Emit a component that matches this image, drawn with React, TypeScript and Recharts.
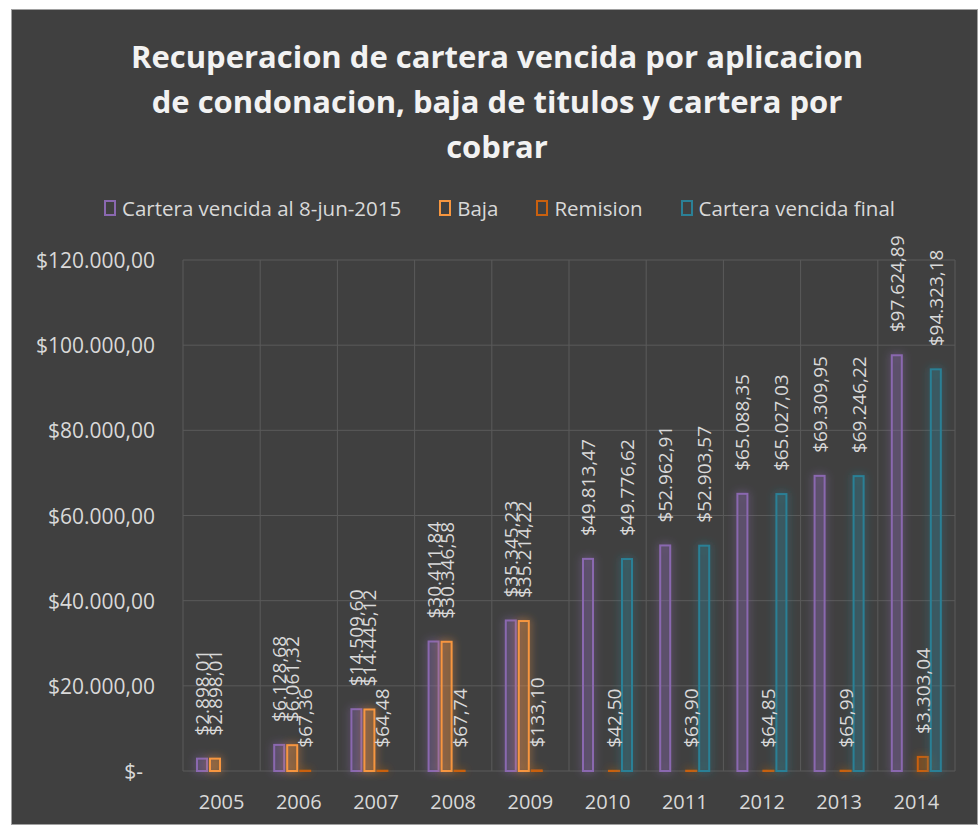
import React from 'react';
import { BarChart, Bar, XAxis, YAxis, CartesianGrid, LabelList } from 'recharts';

const years = ['2005', '2006', '2007', '2008', '2009', '2010', '2011', '2012', '2013', '2014'];
const carteraInicial = [2898.01, 6128.68, 14509.6, 30411.84, 35345.23, 49813.47, 52962.91, 65088.35, 69309.95, 97624.89];
const baja = [2898.01, 6061.32, 14445.12, 30346.58, 35214.22, null, null, null, null, null];
const remision = [null, 67.36, 64.48, 67.74, 133.1, 42.5, 63.9, 64.85, 65.99, 3303.04];
const carteraFinal = [null, null, null, null, null, 49776.62, 52903.57, 65027.03, 69246.22, 94323.18];
const yTicks = [0, 20000, 40000, 60000, 80000, 100000, 120000];

const series = [
	{ key: 'inicial', name: 'Cartera vencida al 8-jun-2015', color: '#8a68b0' },
	{ key: 'baja', name: 'Baja', color: '#f7963f' },
	{ key: 'remision', name: 'Remision', color: '#c9600f' },
	{ key: 'final', name: 'Cartera vencida final', color: '#2b8096' },
];

const data = years.map((y, i) => ({
	year: y,
	inicial: carteraInicial[i],
	baja: baja[i],
	remision: remision[i],
	final: carteraFinal[i],
}));

const FONT = "'Open Sans', sans-serif";
const TEXT = '#d9d9d9';

const fmt = (v: number) => {
	const [int, dec] = v.toFixed(2).split('.');
	return '$' + int.replace(/\B(?=(\d{3})+(?!\d))/g, '.') + ',' + dec;
};

const isEmpty = (v: any) => v == null || (Array.isArray(v) && v[1] == null);

const GlowBar = (props: any) => {
	const { x, y, width, height, fill, value } = props;
	if (x == null || y == null || isEmpty(value)) return null;
	return (
		<rect
			x={x}
			y={y}
			width={width}
			height={Math.max(height, 0)}
			fill={fill}
			fillOpacity={0.16}
			stroke={fill}
			strokeWidth={2}
			filter="url(#barGlow)"
		/>
	);
};

const RotatedLabel = (props: any) => {
	const { x, y, width, value } = props;
	if (value == null || x == null) return null;
	const cx = x + width / 2;
	const ty = y - 23;
	return (
		<text
			x={cx}
			y={ty}
			transform={`rotate(-90, ${cx}, ${ty})`}
			textAnchor="start"
			dominantBaseline="central"
			fill={TEXT}
			fontSize={19}
			fontFamily={FONT}
		>
			{fmt(Number(value))}
		</text>
	);
};

const YTick = (props: any) => {
	const { x, y, payload } = props;
	const zero = payload.value === 0;
	return (
		<text x={zero ? x - 12 : x} y={y} textAnchor="end" dominantBaseline="central" fill={TEXT} fontSize={21} fontFamily={FONT}>
			{zero ? '$-' : fmt(payload.value)}
		</text>
	);
};

export default function App() {
	return (
		<div
			style={{
				position: 'absolute', left: 11, top: 9, width: 967, height: 816,
				background: '#404040', border: '1px solid #a0a0a0', boxSizing: 'border-box',
				fontFamily: FONT,
			}}
		>
			<svg width={0} height={0} style={{ position: 'absolute' }}>
				<defs>
					<filter id="barGlow" filterUnits="userSpaceOnUse" x={0} y={0} width={2000} height={2000}>
						<feGaussianBlur in="SourceGraphic" stdDeviation={4} result="blur" />
						<feComponentTransfer in="blur" result="soft">
							<feFuncA type="linear" slope={0.9} />
						</feComponentTransfer>
						<feMerge>
							<feMergeNode in="soft" />
							<feMergeNode in="SourceGraphic" />
						</feMerge>
					</filter>
				</defs>
			</svg>

			{/* title, three lines like the original */}
			<div
				style={{
					position: 'absolute', top: 24, left: 0, width: '100%', paddingLeft: 5, boxSizing: 'border-box',
					textAlign: 'center', color: '#f2f2f2', fontWeight: 700, fontSize: 31, lineHeight: '45px',
				}}
			>
				<div>Recuperacion de cartera vencida por aplicacion</div>
				<div>de condonacion, baja de titulos y cartera por</div>
				<div>cobrar</div>
			</div>

			<div
				style={{
					position: 'absolute', top: 184, left: 0, width: '100%', paddingLeft: 10, boxSizing: 'border-box',
					display: 'flex', justifyContent: 'center', gap: 38, color: TEXT, fontSize: 20.5, lineHeight: '28px',
				}}
			>
				{series.map(s => (
					<div key={s.key} style={{ display: 'flex', alignItems: 'center' }}>
						<span style={{ width: 8, height: 12, border: `2px solid ${s.color}`, marginRight: 6 }} />
						<span>{s.name}</span>
					</div>
				))}
			</div>

			<BarChart
				width={965}
				height={814}
				data={data}
				margin={{ top: 250, right: 22, left: 0, bottom: 23 }}
				barSize={10}
				barGap={3}
				style={{ position: 'absolute', left: 0, top: 0 }}
			>
				<CartesianGrid
					stroke="#5a5a5a"
					strokeWidth={1}
					verticalCoordinatesGenerator={({ offset }: any) =>
						years.concat(['']).map((_, i) => offset.left + (i * offset.width) / years.length)
					}
				/>
				<XAxis
					dataKey="year"
					axisLine={false}
					tickLine={false}
					height={30}
					tickMargin={18}
					tick={{ fill: TEXT, fontSize: 20, fontFamily: FONT }}
					interval={0}
				/>
				<YAxis
					width={171}
					domain={[0, 120000]}
					ticks={yTicks}
					axisLine={false}
					tickLine={false}
					tickMargin={22}
					tick={<YTick />}
					interval={0}
				/>
				{series.map(s => (
					<Bar key={s.key} dataKey={s.key} name={s.name} fill={s.color} shape={<GlowBar />} isAnimationActive={false}>
						<LabelList dataKey={s.key} content={<RotatedLabel />} />
					</Bar>
				))}
			</BarChart>
		</div>
	);
}
